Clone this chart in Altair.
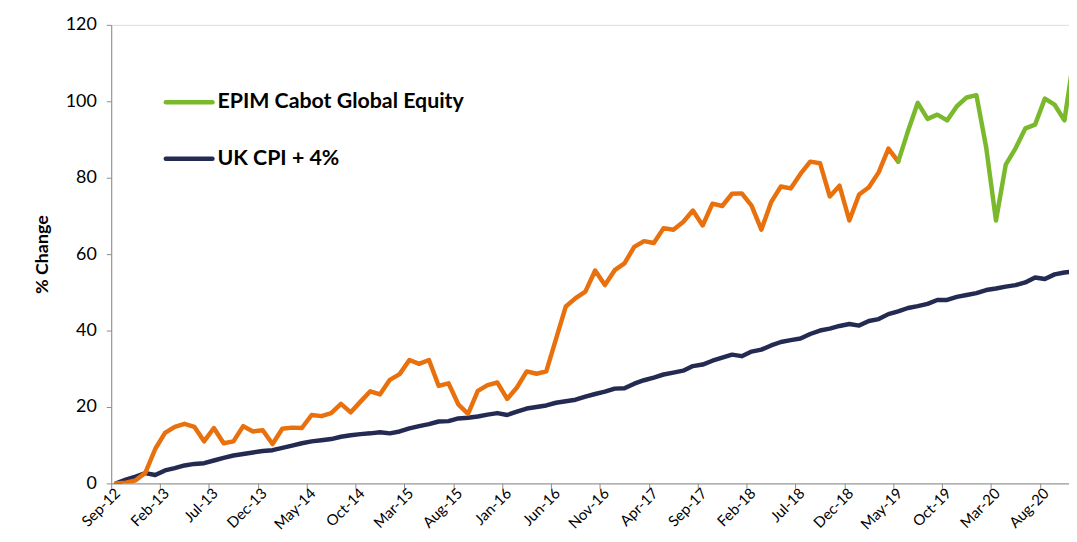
import altair as alt
import pandas as pd

# ---- data ----
tick_labels = ["Sep-12", "Feb-13", "Jul-13", "Dec-13", "May-14", "Oct-14", "Mar-15",
               "Aug-15", "Jan-16", "Jun-16", "Nov-16", "Apr-17", "Sep-17", "Feb-18",
               "Jul-18", "Dec-18", "May-19", "Oct-19", "Mar-20", "Aug-20"]

# monthly index: 0 = Sep-12 ... 98 = Nov-20
cpi_plus4 = [0.0, 1.0, 1.8, 2.7, 2.2, 3.4, 4.0, 4.7, 5.1, 5.3,
             6.0, 6.7, 7.3, 7.7, 8.1, 8.5, 8.7, 9.3, 9.9, 10.5,
             11.0, 11.3, 11.6, 12.2, 12.6, 12.9, 13.1, 13.4, 13.1, 13.6,
             14.4, 15.0, 15.5, 16.2, 16.3, 17.0, 17.2, 17.5, 18.0, 18.4,
             17.9, 18.8, 19.6, 20.0, 20.4, 21.1, 21.5, 21.9, 22.7, 23.4,
             24.0, 24.8, 24.9, 26.1, 27.0, 27.7, 28.5, 29.0, 29.5, 30.7,
             31.1, 32.1, 32.9, 33.7, 33.3, 34.5, 35.0, 36.1, 37.0, 37.5,
             37.9, 39.1, 40.0, 40.5, 41.2, 41.7, 41.3, 42.5, 43.0, 44.3,
             45.0, 45.9, 46.4, 47.0, 48.0, 48.0, 48.8, 49.3, 49.8, 50.6,
             51.0, 51.5, 51.9, 52.6, 53.9, 53.5, 54.7, 55.2, 55.5]

fund_history = [0.0, 0.2, 0.8, 2.8, 9.0, 13.2, 14.8, 15.6, 14.8, 11.0,
                14.5, 10.5, 11.0, 15.0, 13.6, 13.9, 10.3, 14.3, 14.6, 14.5,
                17.9, 17.6, 18.4, 20.8, 18.6, 21.4, 24.1, 23.3, 27.1, 28.6,
                32.3, 31.3, 32.3, 25.5, 26.2, 20.7, 18.2, 24.2, 25.7, 26.4,
                22.1, 25.1, 29.3, 28.7, 29.3, 37.8, 46.3, 48.5, 50.2, 55.7,
                51.9, 55.8, 57.6, 61.9, 63.4, 62.9, 66.8, 66.4, 68.4, 71.4,
                67.5, 73.2, 72.6, 75.8, 75.9, 72.7, 66.4, 73.6, 77.7, 77.2,
                81.0, 84.2, 83.8, 75.1, 77.9, 68.8, 75.6, 77.5, 81.4, 87.6,
                84.2]

fund_live_start = 80
fund_live = [84.2, 92.2, 99.6, 95.4, 96.5, 95.0, 98.7, 101.0, 101.6, 87.9,
             68.8, 83.4, 87.7, 92.9, 93.9, 100.7, 99.1, 95.0, 112.0]

series_names = ["EPIM Cabot Global Equity", "UK CPI + 4%", "history"]
colors = ["#7AB92B", "#232B52", "#E8700D"]

rows = []
for i, v in enumerate(cpi_plus4):
    rows.append({"m": i, "v": v, "s": series_names[1]})
for i, v in enumerate(fund_history):
    rows.append({"m": i, "v": v, "s": series_names[2]})
for i, v in enumerate(fund_live):
    rows.append({"m": fund_live_start + i, "v": v, "s": series_names[0]})
df = pd.DataFrame(rows)

FONT = "Lato"
AXIS_GREY = "#8C8C8C"

label_js = "[" + ",".join("'" + t + "'" for t in tick_labels) + "]"
x_axis = alt.Axis(
    values=[-0.5 + 5 * k for k in range(len(tick_labels))],
    labelExpr=label_js + "[round((datum.value + 0.5) / 5)]",
    labelAngle=-45, labelAlign="right", labelBaseline="middle",
    labelOffset=6, labelPadding=2, labelFont=FONT, labelFontSize=15,
    labelColor="#000000", labelOverlap=False, labelFlush=False,
    tickSize=5, tickColor=AXIS_GREY, domainColor=AXIS_GREY, grid=False, title=None,
)
y_axis = alt.Axis(
    values=[0, 20, 40, 60, 80, 100, 120], labelFont=FONT, labelFontSize=18,
    labelColor="#000000", labelPadding=10, tickSize=5, tickColor=AXIS_GREY,
    domainColor=AXIS_GREY, grid=False, title="% Change", titleFont=FONT,
    titleFontSize=18, titleFontWeight="bold", titleColor="#000000", titlePadding=14,
)

x_enc = alt.X("m:Q", scale=alt.Scale(domain=[-0.5, 97.47], nice=False, zero=False), axis=x_axis)
y_enc = alt.Y("v:Q", scale=alt.Scale(domain=[0, 120], nice=False), axis=y_axis)
color_enc = alt.Color("s:N", scale=alt.Scale(domain=series_names, range=colors), legend=None)

def series_layer(name):
    return alt.Chart(df).transform_filter(alt.datum.s == name).mark_line(
        strokeWidth=4.5, strokeJoin="round", strokeCap="round", clip=True
    ).encode(x=x_enc, y=y_enc, color=color_enc)

layers = [series_layer(series_names[1]), series_layer(series_names[2]), series_layer(series_names[0])]

# manual legend (two entries)
legend_rows_y = [78, 135]
for name, col, yy in zip(series_names[:2], colors[:2], legend_rows_y):
    ldf = pd.DataFrame({"name": [name]})
    layers.append(alt.Chart(ldf).mark_rule(strokeWidth=4.5, color=col, strokeCap="round").encode(
        x=alt.value(55), x2=alt.value(102), y=alt.value(yy)))
    layers.append(alt.Chart(ldf).mark_text(
        align="left", baseline="middle", font=FONT, fontSize=21.5, fontWeight="bold", color="#000000"
    ).encode(x=alt.value(107), y=alt.value(yy), text="name:N"))

chart = alt.layer(*layers).properties(
    width=965, height=462,
    padding={"left": 104, "top": 15, "right": 0, "bottom": 50},
    autosize=alt.AutoSizeParams(type="none"),
).configure_view(stroke=None).configure(background="white")

chart.save("out.html", embed_options={"renderer": "svg", "actions": False})
